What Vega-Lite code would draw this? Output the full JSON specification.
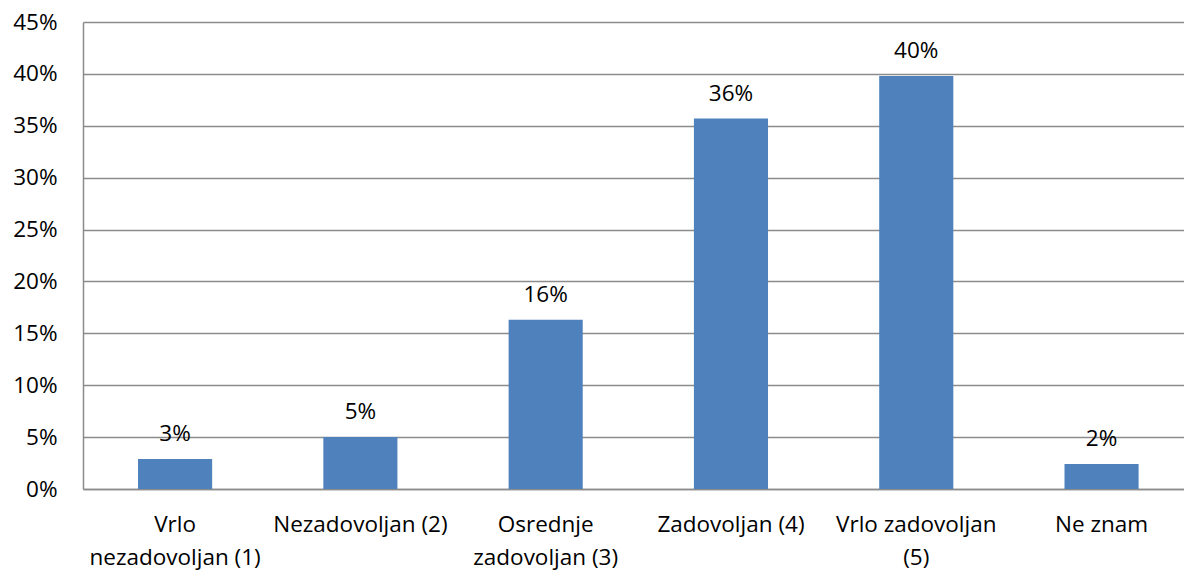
{
  "$schema": "https://vega.github.io/schema/vega-lite/v6.json",
  "width": 1101,
  "height": 467,
  "autosize": {"type": "none"},
  "padding": {"left": 83, "top": 22, "right": 0, "bottom": 82},
  "background": "white",
  "data": {
    "values": [
      {"kategorija": "Vrlo nezadovoljan (1)", "udio": 0.029},
      {"kategorija": "Nezadovoljan (2)", "udio": 0.050},
      {"kategorija": "Osrednje zadovoljan (3)", "udio": 0.163},
      {"kategorija": "Zadovoljan (4)", "udio": 0.357},
      {"kategorija": "Vrlo zadovoljan (5)", "udio": 0.398},
      {"kategorija": "Ne znam", "udio": 0.024}
    ]
  },
  "encoding": {
    "x": {
      "field": "kategorija",
      "type": "nominal",
      "sort": null,
      "title": null,
      "scale": {"paddingInner": 0.6, "paddingOuter": 0.271, "align": 0.548},
      "axis": {
        "labelAngle": 0,
        "ticks": false,
        "domain": true,
        "domainColor": "#8c8c8c",
        "domainWidth": 1.5,
        "labelPadding": 24,
        "labelBaseline": "top",
        "labelLineHeight": 33,
        "labelFont": "Open Sans",
        "labelFontSize": 22.5,
        "labelColor": "#000000",
        "labelLimit": 400,
        "labelExpr": "datum.label == 'Vrlo nezadovoljan (1)' ? ['Vrlo', 'nezadovoljan (1)'] : datum.label == 'Osrednje zadovoljan (3)' ? ['Osrednje', 'zadovoljan (3)'] : datum.label == 'Vrlo zadovoljan (5)' ? ['Vrlo zadovoljan', '(5)'] : datum.label"
      }
    },
    "y": {
      "field": "udio",
      "type": "quantitative",
      "title": null,
      "scale": {"domain": [0, 0.45], "nice": false, "zero": true},
      "axis": {
        "values": [0, 0.05, 0.1, 0.15, 0.2, 0.25, 0.3, 0.35, 0.4, 0.45],
        "format": ".0%",
        "grid": true,
        "gridColor": "#8c8c8c",
        "gridWidth": 1.5,
        "ticks": false,
        "domain": true,
        "domainColor": "#8c8c8c",
        "domainWidth": 1.5,
        "labelPadding": 26,
        "labelFont": "Open Sans",
        "labelFontSize": 22.5,
        "labelColor": "#000000"
      }
    }
  },
  "layer": [
    {
      "mark": {"type": "bar", "color": "#4F81BD"}
    },
    {
      "mark": {
        "type": "text",
        "baseline": "alphabetic",
        "dy": -18,
        "font": "Open Sans",
        "fontSize": 22.5,
        "color": "#000000"
      },
      "encoding": {
        "text": {"field": "udio", "type": "quantitative", "format": ".0%"}
      }
    }
  ],
  "config": {
    "view": {"stroke": null}
  }
}
